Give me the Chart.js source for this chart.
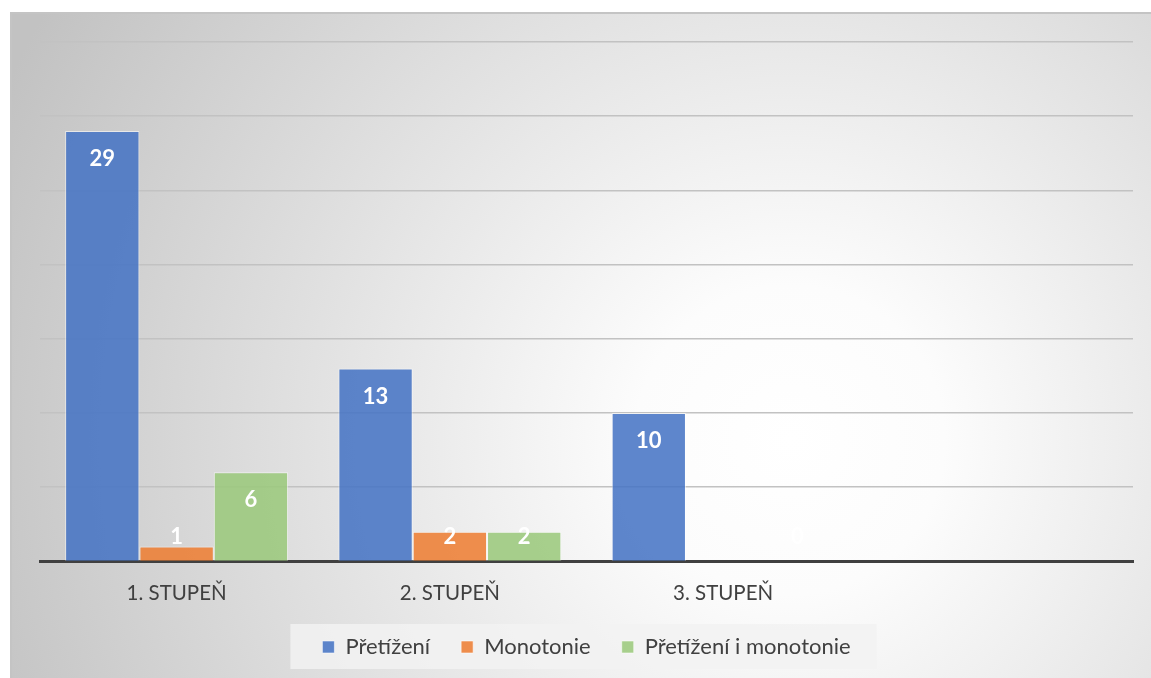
<!DOCTYPE html>
<html>
<head>
<meta charset="utf-8">
<script src="https://cdn.jsdelivr.net/npm/chart.js@4.4.0/dist/chart.umd.min.js"></script>
<style>
  html, body { margin: 0; padding: 0; background: #fff; }
  #wrap { width: 1151px; height: 678px; position: relative; }
</style>
</head>
<body>
<div id="wrap"><canvas id="stupneChart"></canvas></div>
<script>
// kategorie a hodnoty
var categories = ['1. STUPEŇ', '2. STUPEŇ', '3. STUPEŇ', ''];
var pretizeni = [29, 13, 10, null];
var monotonie = [1, 2, null, null];
var pretizeniMonotonie = [6, 2, 0, null];
var yMax = 35;
var yStep = 5;

var textColor = '#404040';
var fontFamily = 'Lato, "Open Sans", sans-serif';

// pozadi ramecku s radialnim prechodem
var backgroundPlugin = {
  id: 'frameBackground',
  beforeDraw: function (chart) {
    var ctx = chart.ctx;
    var w = chart.width, h = chart.height;
    ctx.save();
    ctx.fillStyle = '#ffffff';
    ctx.fillRect(0, 0, w, h);
    var g = ctx.createRadialGradient(790, 440, 0, 790, 440, 860);
    g.addColorStop(0, '#ffffff');
    g.addColorStop(0.18, '#fcfcfc');
    g.addColorStop(1, '#c2c2c2');
    ctx.fillStyle = g;
    ctx.fillRect(10, 12, w - 10, h - 12);
    ctx.strokeStyle = '#c4c4c4';
    ctx.lineWidth = 2;
    ctx.beginPath();
    ctx.moveTo(11, h);
    ctx.lineTo(11, 13);
    ctx.lineTo(w, 13);
    ctx.stroke();

    // podklad legendy
    var lg = chart.legend;
    if (lg && lg.legendHitBoxes && lg.legendHitBoxes.length) {
      var left = Infinity, right = -Infinity, mid = 0;
      lg.legendHitBoxes.forEach(function (b) {
        left = Math.min(left, b.left);
        right = Math.max(right, b.left + b.width);
        mid = b.top + b.height / 2;
      });
      ctx.fillStyle = 'rgba(242,242,242,0.85)';
      ctx.fillRect(left - 32, mid - 23, right - left + 58, 45);
    }
    ctx.restore();
  }
};

// popisky hodnot uvnitr / nad sloupci
var valueLabels = {
  id: 'valueLabels',
  afterDatasetsDraw: function (chart) {
    var ctx = chart.ctx;
    var base = chart.scales.y.getPixelForValue(0);
    ctx.save();
    ctx.font = 'bold 22px ' + fontFamily;
    ctx.textAlign = 'center';
    ctx.textBaseline = 'middle';
    chart.data.datasets.forEach(function (ds, i) {
      var meta = chart.getDatasetMeta(i);
      meta.data.forEach(function (bar, j) {
        var v = ds.data[j];
        if (v === null || v === undefined) return;
        var y = Math.min(bar.y + 28, base - 24);
        ctx.fillStyle = v === 0 ? 'rgba(255,255,255,0.8)' : '#ffffff';
        ctx.fillText(String(v), bar.x, y);
      });
    });
    ctx.restore();
  }
};

var ctx = document.getElementById('stupneChart');
new Chart(ctx, {
  type: 'bar',
  data: {
    labels: categories,
    datasets: [
      {
        label: 'Přetížení',
        data: pretizeni,
        backgroundColor: 'rgba(68,114,196,0.86)',
        borderColor: 'rgba(255,255,255,0.55)',
        borderWidth: 1
      },
      {
        label: 'Monotonie',
        data: monotonie,
        backgroundColor: 'rgba(237,125,49,0.86)',
        borderColor: 'rgba(255,255,255,0.55)',
        borderWidth: 1
      },
      {
        label: 'Přetížení i monotonie',
        data: pretizeniMonotonie,
        backgroundColor: 'rgba(154,200,122,0.86)',
        borderColor: 'rgba(255,255,255,0.55)',
        borderWidth: 1
      }
    ]
  },
  options: {
    responsive: true,
    maintainAspectRatio: false,
    animation: false,
    layout: {
      padding: { left: 40, right: 18, top: 42, bottom: 10 }
    },
    datasets: {
      bar: {
        categoryPercentage: 0.816,
        barPercentage: 1.0
      }
    },
    plugins: {
      tooltip: { enabled: false },
      legend: {
        position: 'bottom',
        labels: {
          color: textColor,
          font: { family: fontFamily, size: 22 },
          boxWidth: 12,
          boxHeight: 12,
          padding: 31
        }
      }
    },
    scales: {
      x: {
        grid: { display: false },
        border: { color: '#404040', width: 3 },
        ticks: {
          color: textColor,
          font: { family: fontFamily, size: 20.5 },
          padding: 12,
          maxRotation: 0
        },
        afterFit: function (scale) { scale.height -= 13; }
      },
      y: {
        min: 0,
        max: yMax,
        ticks: { stepSize: yStep, display: false },
        grid: { color: '#c2c2c2', lineWidth: 1.5, drawTicks: false },
        border: { display: false },
        afterFit: function (scale) { scale.width = 0; }
      }
    }
  },
  plugins: [backgroundPlugin, valueLabels]
});
</script>
</body>
</html>
